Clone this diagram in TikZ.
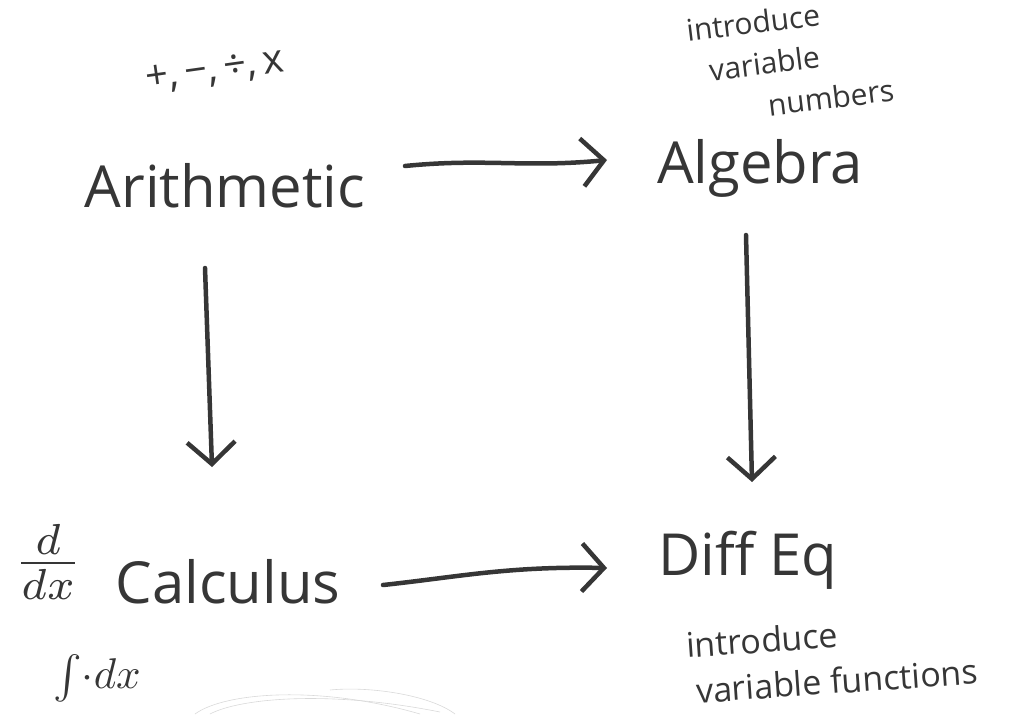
\documentclass[tikz,border=0pt]{standalone}
\usepackage{fontspec}
\setmainfont{Open Sans}
\usetikzlibrary{arrows.meta,calc}
\definecolor{ink}{HTML}{363636}
\tikzset{
  big/.style={text=ink,font=\fontsize{58}{60}\selectfont,inner sep=0pt},
  note/.style={text=ink,font=\fontsize{30}{38}\selectfont,inner sep=0pt},
  arr/.style={draw=ink,line width=4.5pt,line cap=round,
    -{Straight Barb[length=22pt,width=48pt,line width=4.5pt]}},
  faint/.style={draw=gray!30,line width=0.6pt}
}
\begin{document}
\begin{tikzpicture}[x=1pt,y=-1pt]
\useasboundingbox (0,0) rectangle (1016,714);
% main labels
\node[big] (arith) at (225,186) {Arithmetic};
\node[big] (alg) at (760,168) {Algebra};
\node[big] (calc) at (228,582) {Calculus};
\node[big] (diff) at (748,560) {Diff Eq};
% annotations
\node[note,font=\fontsize{40}{40}\selectfont,rotate=8] (ops) at (215,72) {+,\,−,\,÷,\,x};
\node[note,rotate=7,align=left] (numnote) at (790,60) {introduce\\[4pt]\hspace{0.6em}variable\\[4pt]\hspace{2.4em}numbers};
\node[note,font=\fontsize{34}{42}\selectfont,rotate=4,align=left] (funnote) at (832,658) {introduce\\[4pt]\hspace{0.2em}variable functions};
\node[text=ink,inner sep=0pt] (ddx) at (48,562) {\scalebox{6.2}{$\frac{d}{dx}$}};
\node[text=ink,inner sep=0pt] (intdx) at (97,678) {\scalebox{4.3}{$\int\!\cdot dx$}};
% connectors
\draw[arr] ($(arith)+(180,-20)$) .. controls ($(arith)+(260,-28)$) and ($(arith)+(300,-18)$) .. ($(alg)+(-153,-8)$);
\draw[arr] ($(arith)+(-20,82)$) -- ($(calc)+(-16,-115)$);
\draw[arr] ($(alg)+(-14,67)$) -- ($(diff)+(4,-78)$);
\draw[arr] ($(calc)+(155,3)$) .. controls ($(calc)+(230,-5)$) and ($(calc)+(280,-16)$) .. ($(diff)+(-141,8)$);
% faint background sketch
\draw[faint] (195,714) .. controls (225,692) and (320,685) .. (420,714);
\draw[faint] (210,714) .. controls (240,698) and (330,690) .. (440,712);
\draw[faint] (330,690) .. controls (370,686) and (430,695) .. (455,714);
\end{tikzpicture}
\end{document}
